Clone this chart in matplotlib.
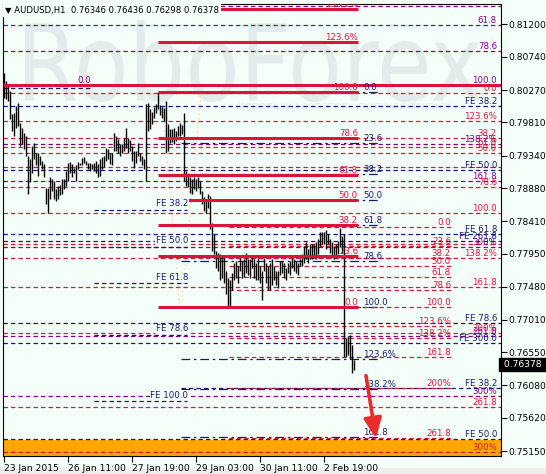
import matplotlib
matplotlib.use("Agg")
import matplotlib.pyplot as plt
from matplotlib.textpath import TextPath
from matplotlib.patches import PathPatch, Rectangle
from matplotlib.transforms import Affine2D, IdentityTransform, blended_transform_factory
from matplotlib.font_manager import FontProperties

# H1 bars, AUDUSD 23 Jan - 3 Feb 2015 (high / low per bar)
highs = [0.8051, 0.8040, 0.8033, 0.8026, 0.7993, 0.7995, 0.8004, 0.8009, 0.7980, 0.7973,
         0.7966, 0.7962, 0.7934, 0.7929, 0.7948, 0.7952, 0.7938, 0.7937, 0.7934, 0.7927,
         0.7922, 0.7888, 0.7888, 0.7904, 0.7901, 0.7898, 0.7887, 0.7891, 0.7893, 0.7901,
         0.7901, 0.7912, 0.7924, 0.7925, 0.7922, 0.7917, 0.7921, 0.7925, 0.7924, 0.7931,
         0.7932, 0.7927, 0.7924, 0.7924, 0.7922, 0.7924, 0.7927, 0.7922, 0.7929, 0.7932,
         0.7934, 0.7945, 0.7944, 0.7938, 0.7938, 0.7966, 0.7962, 0.7958, 0.7951, 0.7951,
         0.7959, 0.7973, 0.7959, 0.7956, 0.7948, 0.7941, 0.7941, 0.7952, 0.7938, 0.7934,
         0.7929, 0.8007, 0.8009, 0.8000, 0.7996, 0.8003, 0.8007, 0.8024, 0.8006, 0.8003,
         0.8002, 0.8012, 0.7979, 0.7972, 0.7972, 0.7973, 0.7969, 0.7976, 0.7980, 0.7978,
         0.7995, 0.7912, 0.7905, 0.7903, 0.7901, 0.7904, 0.7901, 0.7903, 0.7898, 0.7884,
         0.7876, 0.7873, 0.7880, 0.7877, 0.7839, 0.7823, 0.7799, 0.7796, 0.7794, 0.7792,
         0.7789, 0.7771, 0.7760, 0.7757, 0.7768, 0.7781, 0.7785, 0.7778, 0.7789, 0.7785,
         0.7788, 0.7796, 0.7788, 0.7788, 0.7792, 0.7788, 0.7781, 0.7789, 0.7778, 0.7771,
         0.7789, 0.7782, 0.7778, 0.7782, 0.7788, 0.7778, 0.7771, 0.7771, 0.7785, 0.7785,
         0.7781, 0.7775, 0.7781, 0.7785, 0.7789, 0.7788, 0.7785, 0.7782, 0.7788, 0.7795,
         0.7806, 0.7811, 0.7802, 0.7809, 0.7808, 0.7809, 0.7811, 0.7816, 0.7825, 0.7826,
         0.7825, 0.7828, 0.7823, 0.7816, 0.7811, 0.7804, 0.7809, 0.7813, 0.7832, 0.7820,
         0.7823, 0.7676, 0.7678, 0.7679, 0.7665, 0.76436]
lows = [0.8016, 0.8014, 0.8012, 0.7986, 0.7969, 0.7962, 0.7973, 0.7976, 0.7948, 0.7951,
        0.7944, 0.7934, 0.7880, 0.7896, 0.7910, 0.7929, 0.7920, 0.7905, 0.7920, 0.7915,
        0.7903, 0.7866, 0.7853, 0.7873, 0.7884, 0.7873, 0.7870, 0.7873, 0.7878, 0.7880,
        0.7887, 0.7891, 0.7898, 0.7910, 0.7903, 0.7910, 0.7898, 0.7915, 0.7920, 0.7920,
        0.7924, 0.7920, 0.7915, 0.7912, 0.7915, 0.7912, 0.7910, 0.7903, 0.7905, 0.7915,
        0.7918, 0.7927, 0.7929, 0.7922, 0.7920, 0.7941, 0.7941, 0.7938, 0.7934, 0.7938,
        0.7941, 0.7945, 0.7938, 0.7941, 0.7927, 0.7917, 0.7924, 0.7934, 0.7927, 0.7920,
        0.7915, 0.7898, 0.7969, 0.7972, 0.7979, 0.7987, 0.7995, 0.8000, 0.7992, 0.7987,
        0.7983, 0.7938, 0.7941, 0.7952, 0.7953, 0.7951, 0.7955, 0.7962, 0.7962, 0.7965,
        0.7898, 0.7891, 0.7890, 0.7881, 0.7880, 0.7887, 0.7884, 0.7888, 0.7880, 0.7866,
        0.7856, 0.7852, 0.7860, 0.7830, 0.7799, 0.7795, 0.7774, 0.7771, 0.7757, 0.7761,
        0.7753, 0.7738, 0.7721, 0.7720, 0.7743, 0.7757, 0.7761, 0.7754, 0.7771, 0.7760,
        0.7762, 0.7767, 0.7765, 0.7761, 0.7774, 0.7761, 0.7757, 0.7757, 0.7754, 0.7729,
        0.7771, 0.7753, 0.7743, 0.7743, 0.7750, 0.7757, 0.7750, 0.7746, 0.7764, 0.7767,
        0.7761, 0.7757, 0.7767, 0.7764, 0.7774, 0.7771, 0.7767, 0.7764, 0.7777, 0.7778,
        0.7782, 0.7788, 0.7781, 0.7788, 0.7788, 0.7792, 0.7788, 0.7795, 0.7806, 0.7809,
        0.7808, 0.7802, 0.7808, 0.7796, 0.7791, 0.7788, 0.7789, 0.7795, 0.7804, 0.7796,
        0.7648, 0.7648, 0.7651, 0.7646, 0.7625, 0.76298]

title_text = "AUDUSD,H1  0.76346 0.76436 0.76298 0.76378"
last_close = 0.76378

price_ticks = [0.81200, 0.80740, 0.80270, 0.79810, 0.79340, 0.78880, 0.78410,
               0.77950, 0.77480, 0.77010, 0.76550, 0.76080, 0.75620, 0.75150]
date_ticks = [0, 32, 64, 96, 128, 160]
date_labels = ["23 Jan 2015", "26 Jan 11:00", "27 Jan 19:00", "29 Jan 03:00",
               "30 Jan 11:00", "2 Feb 19:00"]

# full-width dashed levels (price, colour group, right label)
wide_prices = [0.8146, 0.8119, 0.8082, 0.8023, 0.8004, 0.7983, 0.7959, 0.7951, 0.7946,
               0.7938, 0.7918, 0.7914, 0.7898, 0.7890, 0.7853, 0.7823, 0.7813, 0.7809,
               0.7804, 0.7789, 0.7748, 0.7696, 0.7683, 0.7678, 0.7668, 0.7593, 0.7578,
               0.7532, 0.7513]
wide_kinds = ["p", "p", "p", "c", "n", "c", "c", "p", "c",
              "c", "c", "n", "p", "c", "c", "n", "n", "c",
              "p", "c", "c", "n", "c", "p", "n", "p", "c",
              "n", "c"]
wide_labels = ["161.8", "61.8", "78.6", "0.0", "FE 38.2", "123.6%", "38.2", "138.2%", "61.8",
               "50.0", "", "FE 50.0", "161.8", "78.6", "100.0", "FE 61.8", "FE 261.8", "",
               "300%", "138.2%", "161.8", "FE 78.6", "200%", "261.8", "FE 300.0", "300%", "261.8",
               "FE 50.0", "300%"]

# thick retracement grid
fib_prices = [0.7720, 0.7791, 0.7836, 0.7871, 0.7907, 0.7959, 0.8024, 0.8095, 0.8142]
fib_labels = ["0.0", "23.6", "38.2", "50.0", "61.8", "78.6", "100.0", "123.6%", "138.2%"]

# navy grid to the right of it
navy_prices = [0.8024, 0.7952, 0.7908, 0.7871, 0.7836, 0.7785, 0.7719, 0.7646, 0.7603, 0.7535]
navy_labels = ["0.0", "23.6", "38.2", "50.0", "61.8", "78.6", "100.0", "123.6%", "138.2%", "161.8"]

# small crimson grid after the last swing
third_prices = [0.7833, 0.7806, 0.7789, 0.7777, 0.7762, 0.7743, 0.7719, 0.7692, 0.7675,
                0.7648, 0.7604, 0.7533]
third_labels = ["0.0", "23.6", "38.2", "50.0", "61.8", "78.6", "100.0", "123.6%", "138.2%",
                "161.8", "200%", "261.8"]

# expansion levels on the left
fe_prices = [0.7857, 0.7805, 0.7753, 0.7680, 0.7586]
fe_labels = ["FE 38.2", "FE 50.0", "FE 61.8", "FE 78.6", "FE 100.0"]

top_line = 0.8034
left_navy = 0.8030
right_fe = 0.7604
target_zone = (0.7508, 0.7530)
arrow_from = (181, 0.7622)
arrow_to = (186, 0.7533)

BG = "#F5FFFA"
CRIMSON = "#DC143C"
PURPLE = "#800080"
NAVY = "#191970"
colors = {"c": CRIMSON, "p": PURPLE, "n": NAVY}
DASH = (0, (3.5, 2.5))
FS = 6.2

fig = plt.figure(figsize=(5.46, 4.74), dpi=100, facecolor=BG)
ax = fig.add_axes([3 / 546, 18 / 474, 498 / 546, 452 / 474])
ax.set_facecolor("none")
ax.set_xlim(-0.5, 248.5)
ax.set_ylim(0.7508, 0.8149)

# watermark
wm = TextPath((0, 0), "RoboForex", size=100, prop=FontProperties(family="DejaVu Sans"))
bb = wm.get_extents()
wm_tr = Affine2D().translate(-bb.x0, -bb.y0).scale(455 / bb.width, 82 / bb.height).translate(25, 372)
fig.add_artist(PathPatch(wm_tr.transform_path(wm), facecolor="#E3EBEB", edgecolor="none",
                         transform=IdentityTransform(), zorder=-1))
fig.text(238 / 546, 1 - 108 / 474, "ИСПОЛЬЗУЙ РОБОТОВ – ПОЛУЧАЙ ПРИБЫЛЬ", fontsize=6.8,
         color="#E6EDED", va="center", zorder=-1)
fig.add_artist(Rectangle((0, 0), 1, 6 / 474, transform=fig.transFigure,
                         facecolor="#EEEEEE", edgecolor="none", zorder=-2))

ax.axhspan(target_zone[0], target_zone[1], color="#FFA500", zorder=1)

# full-width levels
for p, k, lab in zip(wide_prices, wide_kinds, wide_labels):
    ax.hlines(p, -0.5, 248.5, colors=colors[k], linestyles=DASH, lw=0.9, zorder=2)
    if lab:
        ax.text(246.5, p, lab, ha="right", va="bottom", fontsize=FS, color=colors[k],
                zorder=4, clip_on=True)

ax.hlines(top_line, -0.5, 248.5, colors=CRIMSON, lw=2.2, zorder=3)
ax.text(246.5, top_line, "100.0", ha="right", va="bottom", fontsize=FS, color=PURPLE, zorder=4)
ax.text(43.5, top_line, "0.0", ha="right", va="bottom", fontsize=FS, color=PURPLE, zorder=4)
ax.hlines(left_navy, -0.5, 43.5, colors=NAVY, linestyles=DASH, lw=0.9, zorder=2)
ax.hlines(right_fe, 88.5, 248.5, colors=NAVY, linestyles=DASH, lw=0.9, zorder=2)
ax.text(246.5, right_fe, "FE 38.2", ha="right", va="bottom", fontsize=FS, color=NAVY, zorder=4)

# thick retracement
for p, lab in zip(fib_prices, fib_labels):
    ax.hlines(p, 77, 177, colors=CRIMSON, lw=2.2, zorder=3)
    ax.text(177, p, lab, ha="right", va="bottom", fontsize=FS, color=CRIMSON, zorder=4,
            clip_on=True)

for p, lab in zip(navy_prices, navy_labels):
    ax.hlines(p, 88.5, 188.5, colors=NAVY, linestyles=(0, (7, 3, 2, 3)), lw=0.9, zorder=2)
    ax.text(179.5, p, lab, ha="left", va="bottom", fontsize=FS, color=NAVY, zorder=4)

for p, lab in zip(third_prices, third_labels):
    ax.hlines(p, 112.5, 223.5, colors=CRIMSON, linestyles=DASH, lw=0.9, zorder=2)
    ax.text(223.5, p, lab, ha="right", va="bottom", fontsize=FS, color=CRIMSON, zorder=4)

for p, lab in zip(fe_prices, fe_labels):
    ax.hlines(p, 45, 91.5, colors=NAVY, linestyles=DASH, lw=0.9, zorder=2)
    ax.text(92, p + 0.0002, lab, ha="right", va="bottom", fontsize=FS, color=NAVY, zorder=5,
            bbox=dict(facecolor=BG, edgecolor="none", pad=0.4))

# faint trend lines of the grids
ax.plot([80, 88], [0.7983, 0.7720], color="#FFD9B0", lw=0.8, ls=(0, (2, 2)), zorder=1.5)
ax.plot([98.5, 89], [0.8019, 0.7729], color="#FFD9B0", lw=0.8, ls=(0, (2, 2)), zorder=1.5)

# price bars
bars_x = list(range(len(highs)))
ax.vlines(bars_x, lows, highs, colors="black", lw=1.0, zorder=2.5)

ax.annotate("", xy=arrow_to, xytext=arrow_from, zorder=6,
            arrowprops=dict(arrowstyle="-|>,head_width=0.45,head_length=1.0", color="#E82B2B",
                            lw=2.6, shrinkA=0, shrinkB=0, mutation_scale=12))

# axes
for s in ax.spines.values():
    s.set_color("black")
    s.set_linewidth(0.8)
ax.yaxis.tick_right()
ax.set_yticks(price_ticks)
ax.set_yticklabels([f"{v:.5f}" for v in price_ticks])
ax.tick_params(axis="y", direction="out", length=4, width=0.8, labelsize=6.6, pad=1.5)
ax.set_xticks(date_ticks)
ax.set_xticklabels(date_labels)
ax.tick_params(axis="x", direction="out", length=4, width=0.8, labelsize=6.6, pad=1.5)
for lbl in ax.get_xticklabels():
    lbl.set_ha("left")

ax.text(1.0, last_close, " 0.76378  ", transform=blended_transform_factory(ax.transAxes, ax.transData),
        ha="left", va="center", fontsize=6.6, color="white", zorder=7, clip_on=False,
        bbox=dict(facecolor="black", edgecolor="black", pad=1.2))

fig.text(5 / 546, 1 - 10 / 474, "▼ " + title_text, fontsize=6.1, va="center", color="black",
         bbox=dict(facecolor=BG, edgecolor="none", pad=1.6))

fig.savefig("out.png", dpi=100, facecolor=BG)
